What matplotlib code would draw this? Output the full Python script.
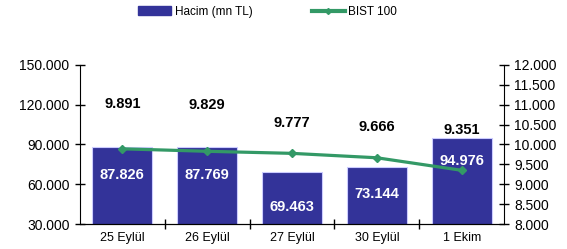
import matplotlib.pyplot as plt
from matplotlib.lines import Line2D
from matplotlib.patches import Patch
from matplotlib.ticker import FixedLocator, FuncFormatter

plt.rcParams['font.family'] = ['Liberation Sans', 'DejaVu Sans']

# data
dates = ['25 Eylül', '26 Eylül', '27 Eylül', '30 Eylül', '1 Ekim']
hacim = [87.826, 87.769, 69.463, 73.144, 94.976]    # mn TL (thousands)
bist = [9.891, 9.829, 9.777, 9.666, 9.351]          # thousands

# hand placed label heights (left axis units), as in the original
hacim_label_y = [67.0, 67.0, 42.8, 52.6, 77.5]
bist_label_y = [120.6, 119.8, 106.2, 103.2, 100.9]

bar_color = '#333399'
line_color = '#339966'

fig = plt.figure(figsize=(5.67, 2.49), dpi=100)
ax = fig.add_axes([0.141, 0.1004, 0.748, 0.6386])
x = range(len(dates))

ax.bar(x, hacim, width=0.71, color=bar_color, edgecolor='#ccccff', linewidth=0.8,
       zorder=2)
ax.set_xlim(-0.5, len(dates) - 0.5)
ax.set_ylim(30, 150)
ax.set_yticks([30, 60, 90, 120, 150])
ax.yaxis.set_major_formatter(FuncFormatter(lambda v, p: f'{int(v)}.000'))
ax.set_xticks(list(x))
ax.set_xticklabels(dates, fontsize=9)
ax.xaxis.set_minor_locator(FixedLocator([i + 0.5 for i in range(len(dates) - 1)]))
ax.tick_params(axis='x', which='major', length=0, pad=6)
ax.tick_params(axis='x', which='minor', length=7, direction='inout', width=1)
ax.tick_params(axis='y', length=7, direction='inout', width=1, labelsize=10, pad=4)
ax.spines['top'].set_visible(False)
ax.spines['right'].set_visible(False)

for i, (v, ly) in enumerate(zip(hacim, hacim_label_y)):
    ax.text(i, ly, f'{v:.3f}', color='white', fontsize=10.5, fontweight='bold',
            ha='center', va='center', zorder=5)
for i, (v, ly) in enumerate(zip(bist, bist_label_y)):
    ax.text(i, ly, f'{v:.3f}', color='black', fontsize=10.5, fontweight='bold',
            ha='center', va='center', zorder=5)

ax2 = ax.twinx()
ax2.plot(list(x), bist, color=line_color, linewidth=2.3, marker='D', markersize=4.5)
ax2.set_ylim(8, 12)
ax2.set_yticks([8 + 0.5 * i for i in range(9)])
ax2.yaxis.set_major_formatter(FuncFormatter(lambda v, p: f'{v:.3f}'))
ax2.tick_params(axis='y', length=7, direction='inout', width=1, labelsize=10, pad=4)
ax2.spines['top'].set_visible(False)
ax2.spines['left'].set_visible(False)

handles = [Patch(facecolor=bar_color, edgecolor=bar_color),
           Line2D([], [], color=line_color, linewidth=3, marker='D', markersize=3)]
fig.legend(handles, ['Hacim (mn TL)', 'BIST 100'], loc='upper center',
           bbox_to_anchor=(0.472, 1.02), ncol=2, frameon=False, fontsize=8.5,
           handlelength=2.8, handletextpad=0.3, columnspacing=5.0)

fig.savefig('out.png', dpi=100)
